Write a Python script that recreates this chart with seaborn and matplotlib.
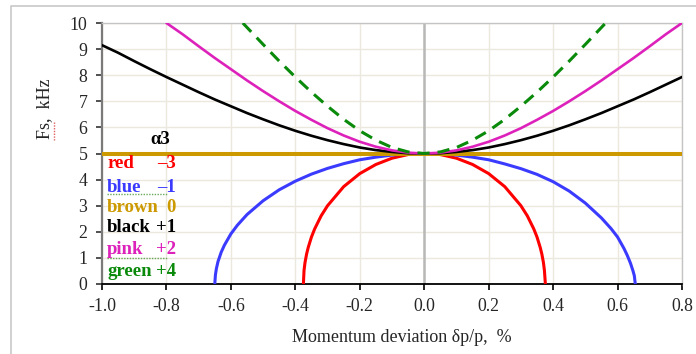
import matplotlib
matplotlib.use("Agg")
import matplotlib.pyplot as plt
from matplotlib.lines import Line2D
import pandas as pd
import seaborn as sns

# Synchrotron frequency Fs (kHz) versus momentum deviation dp/p (%) for several alpha3 values
x_black = [-1.0, -0.95, -0.9, -0.85, -0.8, -0.75, -0.7, -0.65, -0.6, -0.55, -0.5, -0.45, -0.4,
           -0.35, -0.3, -0.25, -0.2, -0.15, -0.1, -0.05, 0.0, 0.05, 0.1, 0.15, 0.2, 0.25, 0.3,
           0.35, 0.4, 0.45, 0.5, 0.55, 0.6, 0.65, 0.7, 0.75, 0.8]
fs_black = [9.15, 8.86, 8.54, 8.23, 7.93, 7.64, 7.35, 7.07, 6.81, 6.55, 6.31, 6.08, 5.87,
            5.68, 5.51, 5.36, 5.23, 5.13, 5.06, 5.01, 5.00, 5.01, 5.06, 5.13, 5.23, 5.36, 5.51,
            5.68, 5.87, 6.08, 6.31, 6.55, 6.81, 7.07, 7.35, 7.64, 7.93]

x_pink = [-0.8, -0.75, -0.7, -0.65, -0.6, -0.55, -0.5, -0.45, -0.4, -0.35, -0.3, -0.25, -0.2,
          -0.15, -0.1, -0.05, 0.0, 0.05, 0.1, 0.15, 0.2, 0.25, 0.3, 0.35, 0.4, 0.45, 0.5,
          0.55, 0.6, 0.65, 0.7, 0.75, 0.8]
fs_pink = [10.0, 9.57, 9.11, 8.66, 8.23, 7.80, 7.39, 7.00, 6.63, 6.29, 5.97, 5.69, 5.45,
           5.26, 5.12, 5.03, 5.00, 5.03, 5.12, 5.26, 5.45, 5.69, 5.97, 6.29, 6.63, 7.00, 7.39,
           7.80, 8.23, 8.66, 9.11, 9.57, 10.0]

x_green = [-0.563, -0.55, -0.5, -0.45, -0.4, -0.35, -0.3, -0.25, -0.2, -0.15, -0.1, -0.05, 0.0,
           0.05, 0.1, 0.15, 0.2, 0.25, 0.3, 0.35, 0.4, 0.45, 0.5, 0.55, 0.563]
fs_green = [10.0, 9.83, 9.18, 8.54, 7.93, 7.35, 6.81, 6.31, 5.87, 5.51, 5.23, 5.06, 5.00,
            5.06, 5.23, 5.51, 5.87, 6.31, 6.81, 7.35, 7.93, 8.54, 9.18, 9.83, 10.0]

x_brown = [-1.0, 0.8]
fs_brown = [5.0, 5.0]

x_red = [-0.375, -0.373, -0.37, -0.365, -0.36, -0.35, -0.34, -0.32, -0.3, -0.25, -0.2, -0.15,
         -0.1, -0.05, 0.0, 0.05, 0.1, 0.15, 0.2, 0.25, 0.3, 0.32, 0.34, 0.35, 0.36, 0.365,
         0.37, 0.373, 0.376]
fs_red = [0.0, 0.52, 0.82, 1.15, 1.40, 1.80, 2.11, 2.61, 3.00, 3.73, 4.23, 4.58,
          4.82, 4.96, 5.00, 4.96, 4.82, 4.58, 4.23, 3.73, 3.00, 2.61, 2.11, 1.80, 1.40, 1.15,
          0.82, 0.52, 0.0]

x_blue = [-0.650, -0.648, -0.645, -0.64, -0.63, -0.62, -0.6, -0.58, -0.55, -0.5, -0.45, -0.4,
          -0.35, -0.3, -0.25, -0.2, -0.15, -0.1, -0.05, 0.0, 0.05, 0.1, 0.15, 0.2, 0.25, 0.3,
          0.35, 0.4, 0.45, 0.5, 0.55, 0.58, 0.6, 0.62, 0.63, 0.64, 0.648, 0.652, 0.655]
fs_blue = [0.0, 0.35, 0.59, 0.86, 1.22, 1.49, 1.92, 2.25, 2.66, 3.19, 3.61, 3.94,
           4.21, 4.43, 4.61, 4.76, 4.86, 4.94, 4.99, 5.00, 4.99, 4.94, 4.86, 4.76, 4.60, 4.42,
           4.20, 3.92, 3.56, 3.10, 2.53, 2.12, 1.80, 1.36, 1.10, 0.80, 0.50, 0.32, 0.0]

legend_names = ["red", "blue", "brown", "black", "pink", "green"]
legend_values = ["\u20133", "\u20131", "0", "+1", "+2", "+4"]

x_ticks = [-1.0, -0.8, -0.6, -0.4, -0.2, 0.0, 0.2, 0.4, 0.6, 0.8]
y_ticks = list(range(0, 11))

C_RED = "#ff0000"
C_BLUE = "#3b3bff"
C_BROWN = "#cc9900"
C_BLACK = "#000000"
C_PINK = "#dd22bb"
C_GREEN = "#0a8a0a"

sns.set_style("white")
plt.rcParams["font.family"] = ["Liberation Serif", "DejaVu Serif"]

W, H = 696, 354
fig = plt.figure(figsize=(W / 100, H / 100), dpi=100)


def fx(px):
    return px / W


def fy(py):
    return 1 - py / H


ax = fig.add_axes([fx(102), fy(284), fx(682) - fx(102), fy(23) - fy(284)])

series = [
    (x_red, fs_red, C_RED, 2.2, "-"),
    (x_blue, fs_blue, C_BLUE, 2.2, "-"),
    (x_brown, fs_brown, C_BROWN, 2.9, "-"),
    (x_black, fs_black, C_BLACK, 1.9, "-"),
    (x_pink, fs_pink, C_PINK, 1.9, "-"),
    (x_green, fs_green, C_GREEN, 2.2, (0, (4.0, 2.6))),
]
for i, (xs, ys, col, lw, ls) in enumerate(series):
    df = pd.DataFrame({"dp": xs, "fs": ys})
    sns.lineplot(data=df, x="dp", y="fs", ax=ax, color=col, linewidth=lw,
                 linestyle=ls, sort=False, estimator=None, zorder=3 + i)

ax.set_xlim(-1.0, 0.8)
ax.set_ylim(0, 10)
ax.set_xticks(x_ticks)
ax.set_xticklabels([f"{v:.1f}" for v in x_ticks])
ax.set_yticks(y_ticks)
ax.set_xlabel("")
ax.set_ylabel("")

# light grid
ax.grid(True, color="#ebe9de", linewidth=1.0, zorder=0)
ax.set_axisbelow(True)
# vertical line at zero deviation
ax.axvline(0.0, color="#b8b8b8", linewidth=1.8, zorder=2)

for side in ("top", "right"):
    ax.spines[side].set_color("#c4c4c4")
    ax.spines[side].set_linewidth(1.0)
ax.spines["left"].set_color("#7a7a7a")
ax.spines["left"].set_linewidth(1.6)
ax.spines["bottom"].set_color("#000000")
ax.spines["bottom"].set_linewidth(1.3)

ax.tick_params(axis="x", direction="out", length=4.0, width=1.2, color="black",
               labelsize=12.8, pad=6, bottom=True)
ax.tick_params(axis="y", direction="out", length=4.0, width=1.2, color="#333333",
               labelsize=12.8, pad=6.5, left=True)

# axis titles
fig.text(fx(45), fy(109), "Fs,  kHz", rotation=90, ha="center", va="center", fontsize=13)
fig.text(fx(402), fy(338), "Momentum deviation \u03b4p/p,  %", ha="center", va="center",
         fontsize=13)

# alpha3 key
fig.text(fx(150), fy(140), "\u03b13", ha="left", va="center", fontsize=13.5,
         fontweight="bold", color="black")
key_colors = [C_RED, C_BLUE, C_BROWN, C_BLACK, C_PINK, C_GREEN]
key_y = [163, 187, 207, 228, 250, 271]
for name, val, col, yy in zip(legend_names, legend_values, key_colors, key_y):
    fig.text(fx(107), fy(yy), name, ha="left", va="center", fontsize=13.5,
             fontweight="bold", color=col)
    fig.text(fx(176), fy(yy), val, ha="right", va="center", fontsize=13.5,
             fontweight="bold", color=col)

# spell-check squiggles under some words
fig.add_artist(Line2D([fx(107), fx(167)], [fy(194), fy(194)], color="#6aaa5a",
                      linewidth=1.0, linestyle=(0, (1, 1))))
fig.add_artist(Line2D([fx(107), fx(168)], [fy(258), fy(258)], color="#6aaa5a",
                      linewidth=1.0, linestyle=(0, (1, 1))))
fig.add_artist(Line2D([fx(54), fx(54)], [fy(122), fy(140)], color="#e06060",
                      linewidth=1.0, linestyle=(0, (1, 1))))

# page frame
fig.add_artist(Line2D([fx(10.5), fx(10.5), fx(W)], [0, fy(5.5), fy(5.5)],
                      color="#c8c8c8", linewidth=1.2))

fig.savefig("out.png", dpi=100)
